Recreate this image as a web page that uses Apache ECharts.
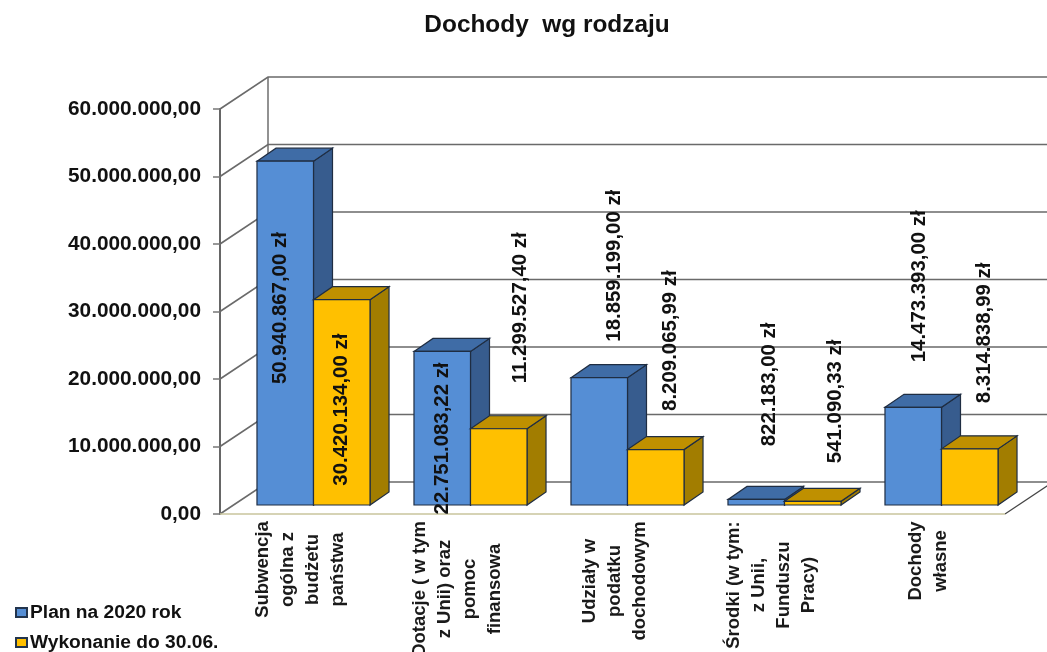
<!DOCTYPE html>
<html>
<head>
<meta charset="utf-8">
<style>html,body{margin:0;padding:0;background:#fff;overflow:hidden}#c{width:1047px;height:652px}</style>
<script src="https://cdn.jsdelivr.net/npm/echarts@6/dist/echarts.min.js"></script>
</head>
<body>
<div id="c"></div>
<script>
const categories = [
  ['Subwencja','ogólna z','budżetu','państwa'],
  ['Dotacje ( w tym','z Unii) oraz','pomoc','finansowa'],
  ['Udziały w','podatku','dochodowym'],
  ['Środki (w tym:','z Unii,','Funduszu','Pracy)'],
  ['Dochody','własne']
];
const plan = [50940867.00, 22751083.22, 18859199.00, 822183.00, 14473393.00];
const wykonanie = [30420134.00, 11299527.40, 8209065.99, 541090.33, 8314838.99];
const yTicks = [0, 10000000, 20000000, 30000000, 40000000, 50000000, 60000000];

const FONT = '"Liberation Sans", Arial, sans-serif';
const planNudge = [[-5,147],[0,87],[15,-112],[13,-115],[6,-121]];
const wykNudge = [[0,110],[22,-121],[15,-109],[23,-100],[15,-116]];

function money(v, dec) {
  const p = v.toFixed(2).split('.');
  return p[0].replace(/\B(?=(\d{3})+$)/g, '.') + ',' + p[1] + (dec ? ' zł' : '');
}
const mctx = document.createElement('canvas').getContext('2d');
mctx.font = 'bold 18.5px "Liberation Sans"';
const rich = {};
categories.forEach((lines, i) => {
  rich['c' + i] = {
    width: Math.ceil(Math.max(...lines.map(l => mctx.measureText(l).width))),
    align: 'center', lineHeight: 25, fontFamily: FONT, fontWeight: 'bold', fontSize: 18.5, color: '#1a1a1a'
  };
});

function barSeries(name, values, nudge, side, front, top, sideCol) {
  return {
    name, type: 'custom', coordinateSystem: 'cartesian2d', z: side + 5,
    itemStyle: { color: front, borderColor: '#22344d', borderWidth: 1.5 },
    data: values.map((v, i) => [i, v, i]),
    encode: { x: 0, y: 1 },
    renderItem(params, api) {
      const i = api.value(2), v = api.value(1);
      const w = api.size([1, 0])[0] * 0.36;
      const base = api.coord([i, 0]), tip = api.coord([i, v]);
      const x0 = base[0] + 15.5 + (side ? 0 : -w) - 0.5, x1 = x0 + w;
      const y0 = base[1] - 9, y1 = tip[1] - 9;
      const dx = 19, dy = 13;
      const st = c => ({ fill: c, stroke: '#1f2d42', lineWidth: 1.2 });
      return {
        type: 'group',
        children: [
          { type: 'polygon', shape: { points: [[x1, y1], [x1 + dx, y1 - dy], [x1 + dx, y0 - dy], [x1, y0]] }, style: st(sideCol) },
          { type: 'polygon', shape: { points: [[x0, y1], [x0 + dx, y1 - dy], [x1 + dx, y1 - dy], [x1, y1]] }, style: st(top) },
          { type: 'rect', shape: { x: x0, y: y1, width: w, height: y0 - y1 }, style: st(front) },
          { type: 'text', rotation: Math.PI / 2, x: (x0 + x1) / 2 + nudge[i][0], y: y1 + nudge[i][1], z2: 50,
            style: { text: money(v, true), fill: '#111', align: 'center', verticalAlign: 'middle',
                     font: 'bold 20.4px ' + FONT } }
        ]
      };
    }
  };
}

const frame = {
  type: 'custom', coordinateSystem: 'cartesian2d', z: 1, silent: true,
  data: yTicks.map(t => [0, t]),
  encode: { x: 0, y: 1 },
  renderItem(params, api) {
    const t = api.value(1);
    const p = api.coord([0, t]);
    const L = params.coordSys.x, R = L + params.coordSys.width;
    const y = p[1], dx = 48, dy = 32;
    const kids = [
      { type: 'polyline', shape: { points: [[L, y], [L + dx, y - dy], [R + dx, y - dy]] },
        style: { stroke: '#6a6a6a', lineWidth: 1.6, fill: 'none' } }
    ];
    if (t === 0) {
      kids.push({ type: 'polyline', shape: { points: [[R + dx, y - dy], [R, y]] }, style: { stroke: '#444', lineWidth: 1.2, fill: 'none' } });
      kids.push({ type: 'line', shape: { x1: L, y1: y, x2: R, y2: y }, style: { stroke: '#c9c49c', lineWidth: 1.5 } });
      const top = api.coord([0, 60000000])[1];
      kids.push({ type: 'line', shape: { x1: L + dx, y1: top - dy, x2: L + dx, y2: y - dy }, style: { stroke: '#777', lineWidth: 1.6 } });
    }
    return { type: 'group', children: kids };
  }
};

const chart = echarts.init(document.getElementById('c'), null, { renderer: 'canvas', width: 1047, height: 652 });
chart.setOption({
  animation: false,
  backgroundColor: '#fff',
  title: { text: 'Dochody  wg rodzaju', left: 547, top: 8, textAlign: 'center', padding: [5, 10, 5, 0],
           textStyle: { fontFamily: FONT, fontWeight: 'bold', fontSize: 24.4, color: '#111' } },
  legend: { show: true, orient: 'vertical', left: 15, top: 603, itemWidth: 11, itemHeight: 9, itemGap: 11,
            data: ['Plan na 2020 rok', 'Wykonanie do 30.06.'], icon: 'rect', selectedMode: false, padding: 0,
            textStyle: { fontFamily: FONT, fontWeight: 'bold', fontSize: 19.2, color: '#111', padding: [0, 0, 0, -2] } },
  grid: { left: 220, top: 109, width: 785, height: 405, containLabel: false, outerBoundsMode: 'none' },
  xAxis: {
    type: 'category', data: categories.map(c => c.join(' ')),
    axisLine: { show: false }, axisTick: { show: false },
    axisLabel: { interval: 0, rotate: 90, margin: 7, hideOverlap: false, padding: [4, 0, 0, 0],
      formatter: (v, i) => categories[i].map(l => '{c' + i + '|' + l + '}').join('\n'), rich }
  },
  yAxis: {
    type: 'value', min: 0, max: 60000000, interval: 10000000,
    axisLine: { show: true, lineStyle: { color: '#666', width: 2 } },
    axisTick: { show: true, length: 7, lineStyle: { color: '#777', width: 1.5 } },
    splitLine: { show: false },
    axisLabel: { margin: 19, formatter: v => money(v, false),
      fontFamily: FONT, fontWeight: 'bold', fontSize: 20.8, color: '#111' }
  },
  series: [
    frame,
    barSeries('Plan na 2020 rok', plan, planNudge, 0, '#558ed5', '#3f6ca6', '#375c8e'),
    barSeries('Wykonanie do 30.06.', wykonanie, wykNudge, 1, '#ffc000', '#bf9000', '#a27d00')
  ]
});
</script>
</body>
</html>
